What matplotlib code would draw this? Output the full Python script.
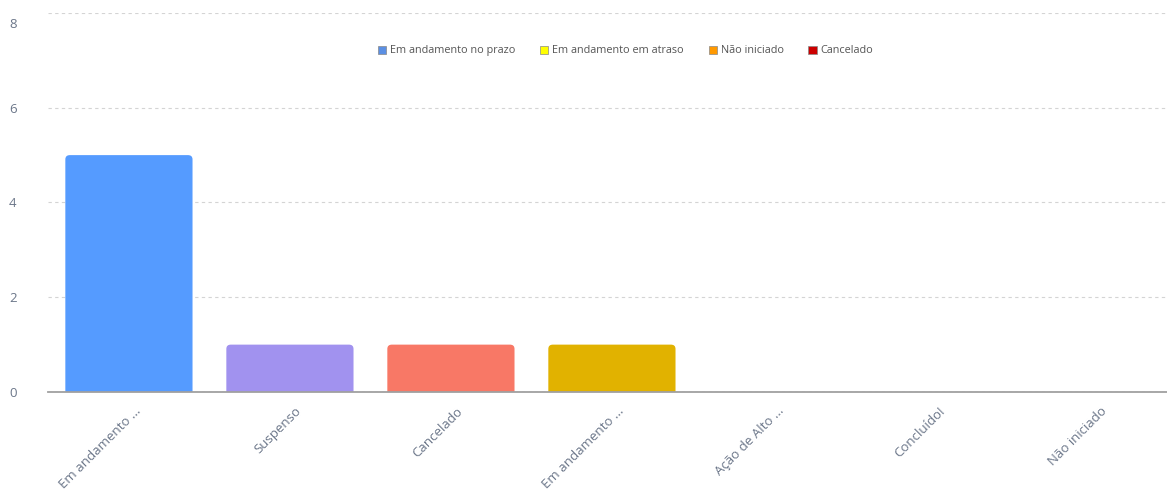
import matplotlib
matplotlib.use("Agg")
import matplotlib.pyplot as plt
from matplotlib.patches import Patch, FancyBboxPatch
from matplotlib.transforms import ScaledTranslation

categories = ["Em andamento ...", "Suspenso", "Cancelado", "Em andamento ...",
              "Ação de Alto ...", "Concluído!", "Não iniciado"]
values = [5, 1, 1, 1, 0, 0, 0]
bar_colors = ["#559bff", "#a192ef", "#f87866", "#e1b200", "#cccccc", "#cccccc", "#cccccc"]
legend_labels = ["Em andamento no prazo", "Em andamento em atraso", "Não iniciado", "Cancelado"]
legend_colors = ["#5b8fe3", "#ffff00", "#ff9900", "#cc0000"]
yticks = [0, 2, 4, 6, 8]

plt.rcParams['font.family'] = ['Open Sans', 'DejaVu Sans']
fig = plt.figure(figsize=(11.67, 4.9), dpi=100)
ax = fig.add_axes([0.0415, 0.2, 0.9657, 0.7735])

x = list(range(len(categories)))
ax.set_xlim(-0.5, len(categories) - 0.5)
ax.set_ylim(0, 8)
bars = ax.bar(x, values, width=0.79, color=bar_colors, zorder=3)

# replace bars with rounded-corner versions (same geometry)
rx, ry = 0.028, 0.09
for b in list(bars):
    h = b.get_height()
    if h > 0:
        fb = FancyBboxPatch((b.get_x(), -ry), b.get_width(), h + ry,
                            boxstyle=f"round,pad=0,rounding_size={rx}",
                            mutation_aspect=ry / rx, facecolor=b.get_facecolor(),
                            edgecolor="none", zorder=3)
        ax.add_patch(fb)
    b.remove()

ax.set_yticks(yticks)
ax.set_yticklabels([str(v) for v in yticks])
ax.yaxis.grid(True, linestyle=(0, (3, 3)), color="#d4d4d4", linewidth=0.8, zorder=0)
for s in ["top", "right", "left"]:
    ax.spines[s].set_visible(False)
ax.spines["bottom"].set_color("#a0a0a0")
ax.spines["bottom"].set_linewidth(1.3)
ax.spines["bottom"].set_zorder(4)
ax.tick_params(axis="y", length=0, pad=23, labelsize=9.5, labelcolor="#6b7689")
ax.tick_params(axis="x", length=0, pad=9, labelsize=9.5, labelcolor="#6b7689")
ax.set_xticks(x)
ax.set_xticklabels(categories, rotation=45, ha="right", rotation_mode="anchor")
shift = ScaledTranslation(5 / 100, 0, fig.dpi_scale_trans)
for lbl in ax.get_xticklabels():
    lbl.set_transform(lbl.get_transform() + shift)
ytl = ax.get_yticklabels()
ytl[-1].set_va("top")
ytl[-1].set_transform(ytl[-1].get_transform() + ScaledTranslation(0, -5 / 100, fig.dpi_scale_trans))

handles = [Patch(facecolor=c, edgecolor="#888888", linewidth=0.5) for c in legend_colors]
leg = fig.legend(handles, legend_labels, loc="center", bbox_to_anchor=(0.536, 0.896),
                 ncol=4, frameon=False, fontsize=7.8, handlelength=0.75, handleheight=0.75,
                 handletextpad=0.35, columnspacing=2.3)
for t in leg.get_texts():
    t.set_color("#555555")

fig.savefig("out.png", dpi=100)
